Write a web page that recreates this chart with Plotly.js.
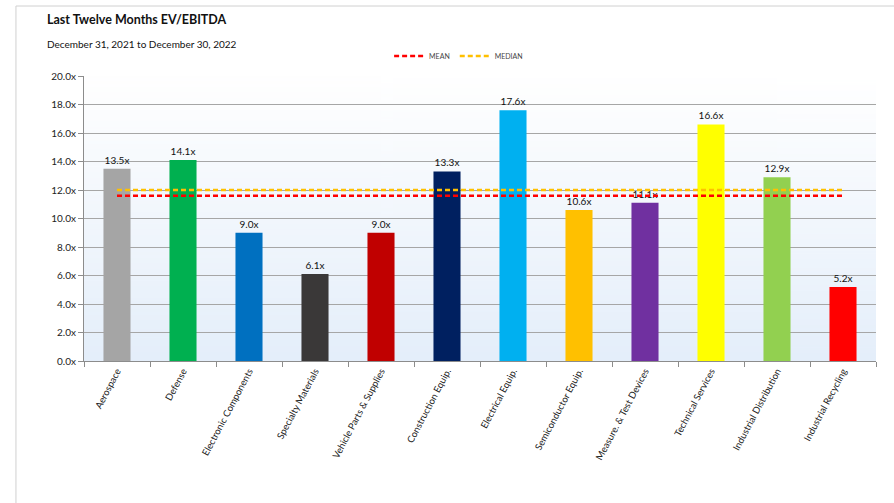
<!DOCTYPE html>
<html>
<head>
<meta charset="utf-8">
<script src="https://cdn.plot.ly/plotly-3.0.1.min.js"></script>
<style>
html,body{margin:0;padding:0;background:#fff;}
#chart{width:894px;height:503px;}
</style>
</head>
<body>
<div id="chart"></div>
<script>
const categories = ["Aerospace","Defense","Electronic Components","Specialty Materials","Vehicle Parts & Supplies","Construction Equip.","Electrical Equip.","Semiconductor Equip.","Measure. & Test Devices","Technical Services","Industrial Distribution","Industrial Recycling"];
const evEbitda = [13.5, 14.1, 9.0, 6.1, 9.0, 13.3, 17.6, 10.6, 11.1, 16.6, 12.9, 5.2];
const barColors = ["#a5a5a5","#00b050","#0070c0","#3a3838","#c00000","#002060","#00b0f0","#ffc000","#7030a0","#ffff00","#92d050","#ff0000"];
const meanValue = 11.6;
const medianValue = 12.0;
const yTickVals = [0,2,4,6,8,10,12,14,16,18,20];
const yTickText = ["0.0x","2.0x","4.0x","6.0x","8.0x","10.0x","12.0x","14.0x","16.0x","18.0x","20.0x"];

// gradient background for the plot area
const cv = document.createElement('canvas');
cv.width = 4; cv.height = 200;
const cx = cv.getContext('2d');
const g = cx.createLinearGradient(0,0,0,200);
g.addColorStop(0,'#ffffff');
g.addColorStop(1,'#e4eefa');
cx.fillStyle = g; cx.fillRect(0,0,4,200);
const bgUrl = cv.toDataURL('image/png');

const font = "Lato, 'Open Sans', sans-serif";

const traces = [
  {
    type:'bar', x:categories, y:evEbitda,
    marker:{color:barColors},
    text:evEbitda.map(v=>v.toFixed(1)+'x'),
    textposition:'outside', cliponaxis:false,
    textfont:{size:10, color:'#111', family:font},
    showlegend:false, hoverinfo:'x+y'
  },
  {
    type:'scatter', mode:'lines', name:'MEAN',
    x:categories, y:categories.map(()=>meanValue),
    line:{color:'#ff0000', width:2.4, dash:'5px,3px'}
  },
  {
    type:'scatter', mode:'lines', name:'MEDIAN',
    x:categories, y:categories.map(()=>medianValue),
    line:{color:'#ffc000', width:2.4, dash:'5px,3px'}
  }
];

const layout = {
  width:894, height:503,
  margin:{l:84, r:18, t:76, b:142},
  paper_bgcolor:'#ffffff',
  plot_bgcolor:'rgba(0,0,0,0)',
  font:{family:font, color:'#222'},
  bargap:0.59,
  showlegend:true,
  legend:{orientation:'h', x:0.473, xanchor:'center', y:1.07, yanchor:'middle',
          font:{size:7, color:'#444', family:font}, itemwidth:30, tracegroupgap:0,
          bgcolor:'rgba(0,0,0,0)'},
  xaxis:{
    type:'category', range:[-0.5, 11.5], tickangle:-62,
    tickfont:{size:9.5, color:'#222', family:font},
    showline:true, linecolor:'#8c8c8c', linewidth:1,
    ticks:'outside', ticklen:5, tickcolor:'#8c8c8c', tickson:'boundaries',
    showgrid:false, fixedrange:true
  },
  yaxis:{
    range:[0,20], tickvals:yTickVals, ticktext:yTickText,
    tickfont:{size:10, color:'#222', family:font},
    showline:true, linecolor:'#8c8c8c', linewidth:1,
    ticks:'outside', ticklen:5, tickcolor:'#8c8c8c',
    showgrid:true, gridcolor:'#a6a6a6', gridwidth:1,
    zeroline:false, fixedrange:true
  },
  images:[{source:bgUrl, xref:'paper', yref:'paper', x:0, y:1, sizex:1, sizey:1,
           sizing:'stretch', layer:'below', xanchor:'left', yanchor:'top'}],
  shapes:[
    {type:'line', xref:'paper', yref:'paper', x0:-0.0859, x1:-0.0859, y0:-0.55, y1:1.2456,
     line:{color:'#d0d0d0', width:1}},
    {type:'line', xref:'paper', yref:'paper', x0:-0.0859, x1:1.03, y0:1.2456, y1:1.2456,
     line:{color:'#d0d0d0', width:1}}
  ],
  annotations:[
    {text:'<b>Last Twelve Months EV/EBITDA</b>', xref:'paper', yref:'paper',
     x:-0.0492, y:1.2, xanchor:'left', yanchor:'middle', showarrow:false,
     font:{size:12.5, color:'#111', family:font}},
    {text:'December 31, 2021 to December 30, 2022', xref:'paper', yref:'paper',
     x:-0.0492, y:1.113, xanchor:'left', yanchor:'middle', showarrow:false,
     font:{size:10, color:'#111', family:font}}
  ]
};

Plotly.newPlot('chart', traces, layout, {displayModeBar:false, staticPlot:true});
</script>
</body>
</html>
